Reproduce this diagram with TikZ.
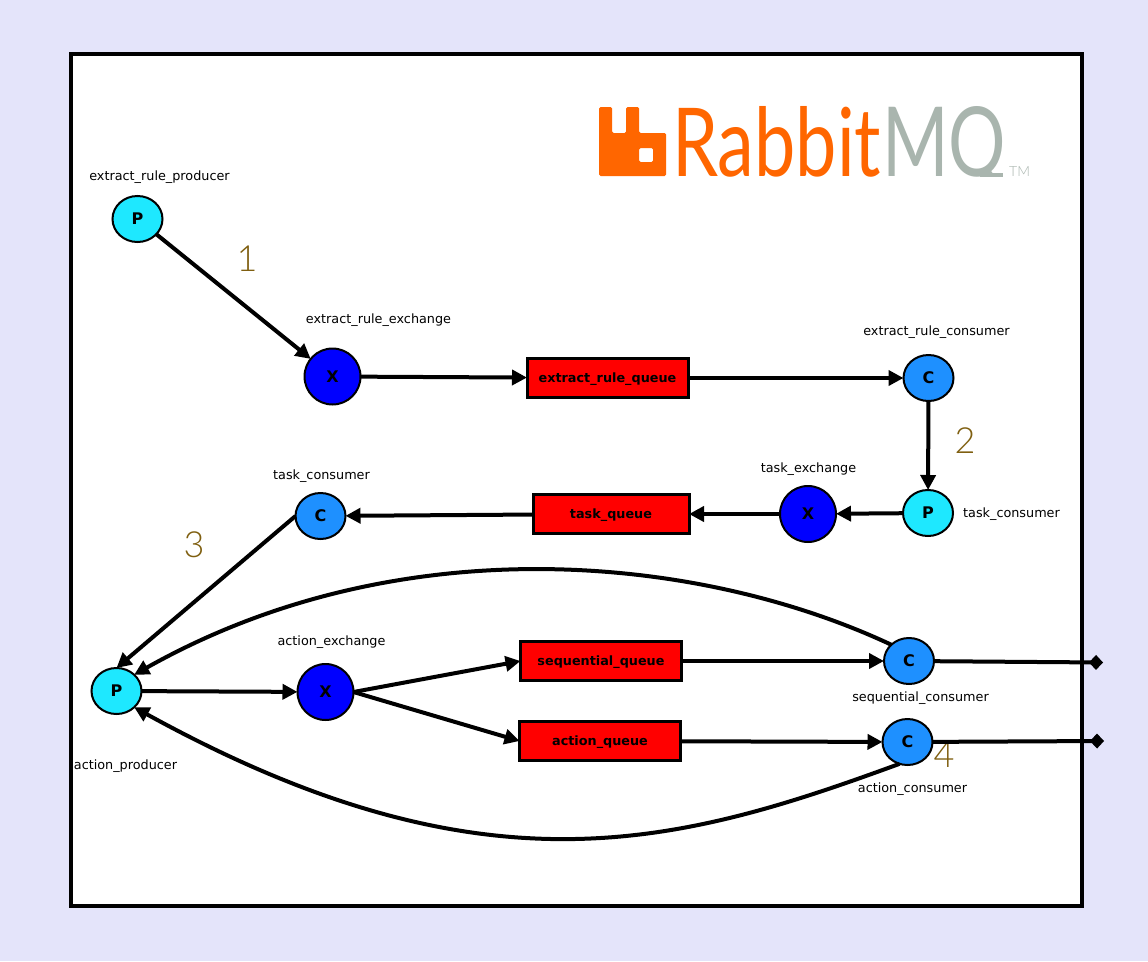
\documentclass[tikz,border=0pt]{standalone}
\usepackage{fontspec}
\setmainfont{DejaVu Sans}
\newfontfamily\logofont{Lato}
\newfontfamily\thinfont{Lato Light}
\usetikzlibrary{arrows.meta,shapes.geometric}
\definecolor{pagebg}{HTML}{E4E4FA}
\definecolor{prodc}{HTML}{1EE8FF}
\definecolor{consc}{HTML}{1E90FF}
\definecolor{exchc}{HTML}{0000FF}
\definecolor{numc}{HTML}{7F5F10}
\definecolor{rabbitc}{HTML}{FF6600}
\definecolor{mqc}{HTML}{A9B5AE}
\tikzset{
  x=1pt,y=-1pt,
  roundn/.style={ellipse,draw=black,line width=2pt,inner sep=0pt,outer sep=0pt,font=\fontsize{16}{16}\selectfont\bfseries},
  prodn/.style={roundn,fill=prodc,minimum width=50pt,minimum height=46pt},
  consn/.style={roundn,fill=consc,minimum width=50pt,minimum height=46pt},
  exchn/.style={roundn,fill=exchc,minimum width=56pt,minimum height=56pt},
  queuen/.style={rectangle,draw=black,fill=red,line width=3pt,outer sep=0pt,minimum height=39.5pt,inner sep=0pt,text height=10pt,text depth=1.4pt,font=\fontsize{12.8}{14}\selectfont\bfseries},
  lab/.style={inner sep=0pt,yshift=-2pt,xshift=0.5pt,font=\fontsize{12.8}{14}\selectfont},
  numl/.style={inner sep=0pt,text=numc,font=\thinfont\fontsize{36}{36}\selectfont},
  link/.style={draw=black,line width=4pt,-{Triangle[length=15pt,width=15pt]}},
  tail/.style={draw=black,line width=4pt,-{Diamond[length=14pt,width=15pt]}},
}
\begin{document}
\begin{tikzpicture}
\useasboundingbox (0,0) rectangle (1148,961);
\fill[pagebg] (0,0) rectangle (1148,961);
\draw[black,fill=white,line width=4pt] (70.5,54) rectangle (1081.5,905.5);

% logo
\fill[rabbitc,rounded corners=1.5pt,even odd rule]
  (599,107) -- (612,107) -- (612,133) -- (626,133) -- (626,107) -- (639,107) -- (639,133) -- (666,133) -- (666,176) -- (599,176) -- cycle
  (639,148) -- (653,148) -- (653,162) -- (639,162) -- cycle;
\node[anchor=base west,inner sep=0pt,text=rabbitc] (rabbit) at (672,176) {\resizebox{209pt}{70pt}{\logofont Rabbit}};
\begin{scope}
\clip (880,100) rectangle (1006,176.5);
\node[anchor=base west,inner sep=0pt,text=mqc] (mq) at (882,176) {\resizebox{124pt}{70pt}{\logofont MQ}};
\end{scope}
\fill[mqc] (980,172.5) rectangle (1003,176.5);
\node[anchor=south west,inner sep=0pt,text=mqc,font=\thinfont\fontsize{14}{14}\selectfont] (tm) at (1009,177) {TM};

% nodes
\node[prodn] (p1) at (137.5,219) {P};
\node[exchn] (x1) at (332.5,376.5) {X};
\node[queuen,minimum width=161pt] (q1) at (607.5,378) {extract\_rule\_queue};
\node[consn] (c1) at (928.5,378) {C};
\node[prodn] (p2) at (928,513) {P};
\node[exchn] (x2) at (808,514) {X};
\node[queuen,minimum width=156pt] (q2) at (611,514) {task\_queue};
\node[consn] (c2) at (320.5,516) {C};
\node[prodn] (p3) at (116.5,691) {P};
\node[exchn] (x3) at (325.5,692) {X};
\node[queuen,minimum width=161pt] (q3) at (601,661) {sequential\_queue};
\node[queuen,minimum width=161pt] (q4) at (600,741) {action\_queue};
\node[consn] (c3) at (909,661) {C};
\node[consn] (c4) at (907.5,742) {C};
\coordinate (d1) at (1103,662.5);
\coordinate (d2) at (1104,741);

% labels
\node[lab] (l1) at (159,175) {extract\_rule\_producer};
\node[lab] (l2) at (378,318) {extract\_rule\_exchange};
\node[lab] (l3) at (936,330) {extract\_rule\_consumer};
\node[lab] (l4) at (321,474) {task\_consumer};
\node[lab] (l5) at (808,467) {task\_exchange};
\node[lab] (l6) at (1011,512) {task\_consumer};
\node[lab] (l7) at (331,640) {action\_exchange};
\node[lab] (l8) at (920,696) {sequential\_consumer};
\node[lab] (l9) at (912,787) {action\_consumer};
\node[lab] (l10) at (125,764) {action\_producer};
\node[numl] (n1) at (247,259) {1};
\node[numl] (n2) at (965,441) {2};
\node[numl] (n3) at (194,545) {3};
\node[numl] (n4) at (944,755) {4};

% connectors
\draw[link] (p1) -- (x1);
\draw[link] (x1) -- (q1);
\draw[link] (q1) -- (c1);
\draw[link] (c1) -- (p2);
\draw[link] (p2) -- (x2);
\draw[link] (x2) -- (q2);
\draw[link] (q2) -- (c2);
\draw[link] (c2.west) -- (p3.north);
\draw[link] (p3) -- (x3);
\draw[link] (x3.east) -- (q3.west);
\draw[link] (x3.east) -- (q4.west);
\draw[link] (q3) -- (c3);
\draw[link] (q4) -- (c4);
\draw[tail] (c3) -- (d1);
\draw[tail] (c4) -- (d2);
\draw[link] (c3.north west) .. controls (700,555) and (400,525) .. (p3.north east);
\draw[link] (c4.250) .. controls (678,845) and (484,900) .. (p3.south east);
\end{tikzpicture}
\end{document}
